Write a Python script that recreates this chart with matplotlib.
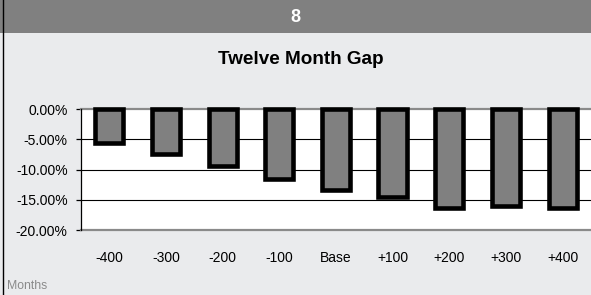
import matplotlib
matplotlib.use("Agg")
import matplotlib.pyplot as plt
from matplotlib.patches import Rectangle
from matplotlib.lines import Line2D

categories = ["-400", "-300", "-200", "-100", "Base", "+100", "+200", "+300", "+400"]
gap_pct = [-5.6, -7.5, -9.5, -11.5, -13.4, -14.5, -16.4, -16.1, -16.4]
y_ticks = [0, -5, -10, -15, -20]
y_tick_labels = ["0.00%", "-5.00%", "-10.00%", "-15.00%", "-20.00%"]

plt.rcParams['font.family'] = ['Liberation Sans', 'DejaVu Sans']

W, H = 591, 295
fig = plt.figure(figsize=(W / 100, H / 100), dpi=100)
fig.patch.set_facecolor("#EAEBED")

# header band
fig.patches.append(Rectangle((0, 1 - 33 / H), 1, 33 / H, transform=fig.transFigure,
                             facecolor="#808080", edgecolor="none", zorder=0))
fig.lines.append(Line2D([2.5 / W, 2.5 / W], [0, 1], transform=fig.transFigure,
                        color="black", linewidth=1.0))
fig.text(295 / W, 1 - 17 / H, "8", color="white", fontsize=13, fontweight="bold",
         ha="center", va="center")
fig.text(301 / W, 1 - 60 / H, "Twelve Month Gap", color="black", fontsize=13.6,
         fontweight="bold", ha="center", va="center")
fig.text(7 / W, 1 - 286 / H, "Months", color="#8a8a8a", fontsize=8.8,
         ha="left", va="center")

ax = fig.add_axes([81 / W, 65 / H, 510 / W, 121 / H])
ax.set_facecolor("white")
x = list(range(len(categories)))
ax.bar(x, gap_pct, width=0.5, color="#808080", edgecolor="black", linewidth=3.3,
       zorder=3, clip_on=False)
ax.set_xlim(-0.5, len(categories) - 0.5)
ax.set_ylim(-20, 0)
for v in [-5, -10, -15]:
    ax.axhline(v, color="black", linewidth=0.8, zorder=1)
ax.axhline(0, color="#8a8a8a", linewidth=1.6, zorder=2, clip_on=False)
ax.axhline(-20, color="#8a8a8a", linewidth=1.6, zorder=2, clip_on=False)

for s in ["top", "right", "bottom"]:
    ax.spines[s].set_visible(False)
ax.spines["left"].set_color("black")
ax.spines["left"].set_linewidth(0.9)

ax.set_yticks(y_ticks)
ax.set_yticklabels(y_tick_labels, fontsize=10)
ax.tick_params(axis="y", length=3.6, width=0.9, color="black", pad=6)
ax.set_xticks(x)
ax.set_xticklabels(categories, fontsize=10)
ax.tick_params(axis="x", length=0, pad=15)

fig.savefig("out.png", dpi=100, facecolor=fig.get_facecolor())
